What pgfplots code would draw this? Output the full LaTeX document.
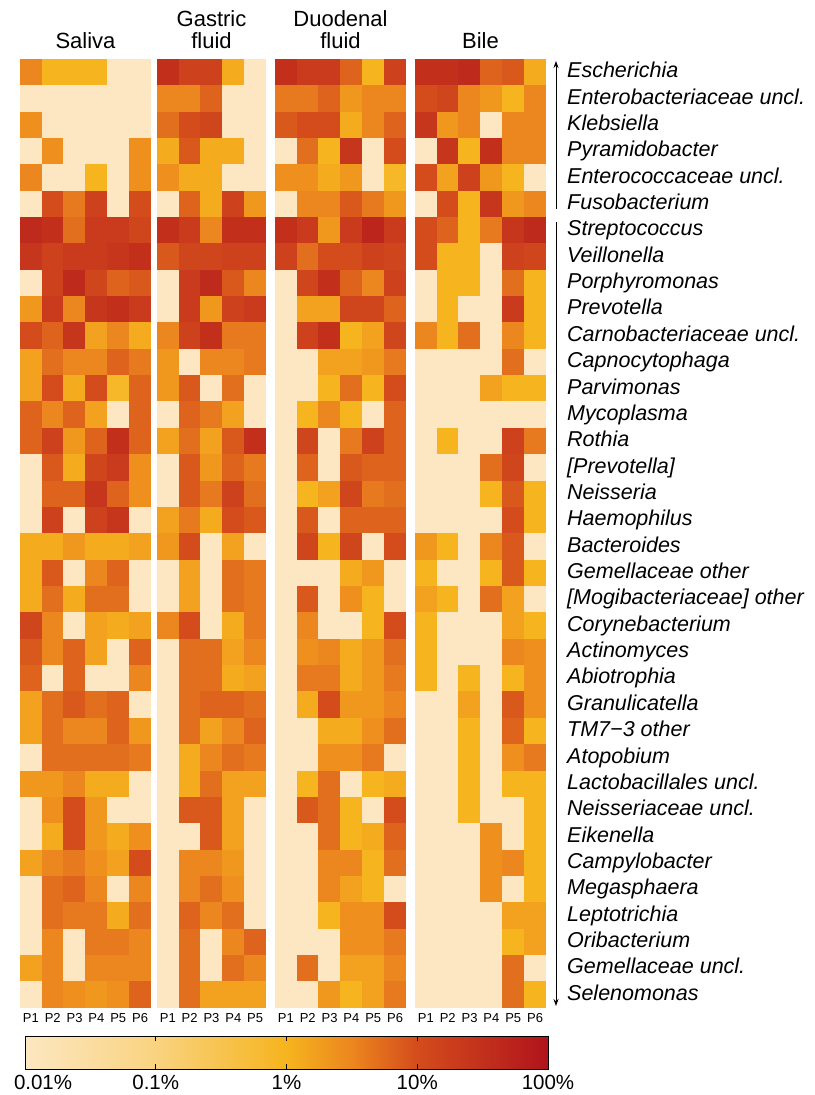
\documentclass[border=0pt]{standalone}
\usepackage{pgfplots}
\pgfplotsset{compat=1.18}
\usepackage{pgfplotstable}
\usepackage{fontspec}
\setmainfont{Liberation Sans}
\usetikzlibrary{arrows.meta}

% relative abundance, stored as log10(percent) + 2  (0 = 0.01%, 4 = 100%)
\pgfplotstableread{
P1 P2 P3 P4 P5 P6
2.5 2.0 2.0 2.0 0 0
0 0 0 0 0 0
2.4 0 0 0 0 0
0 2.4 0 0 0 2.4
2.5 0 0 2.0 0 2.4
0 3.0 2.6 3.2 0 3.0
3.6 3.5 2.7 3.3 3.3 3.1
3.4 3.2 3.3 3.3 3.4 3.5
0 3.2 3.6 3.1 2.8 2.9
2.3 3.3 2.5 3.4 3.5 3.3
3.0 2.8 3.4 2.2 2.5 2.1
2.2 2.7 2.5 2.5 2.8 2.6
2.2 3.0 2.1 3.0 1.9 2.8
2.8 2.5 2.8 2.2 0 2.8
2.8 3.2 2.3 2.8 3.5 2.8
0 2.9 2.1 3.1 3.3 2.4
0 2.8 2.8 3.4 2.8 2.4
0 3.2 0 3.2 3.4 0
2.1 2.1 2.3 2.1 2.1 2.2
2.1 2.9 0 2.5 2.8 0
2.1 2.7 2.1 2.7 2.7 0
3.1 2.5 0 2.2 2.1 2.2
2.9 2.5 2.8 2.2 0 2.8
2.8 0 2.8 0 0 2.5
2.2 2.7 2.9 2.7 2.8 0
2.2 2.7 2.5 2.5 2.8 2.3
0 2.7 2.7 2.7 2.7 2.6
2.3 2.3 2.5 2.1 2.1 0
0 2.4 3.0 2.3 0 0
0 2.1 3.0 2.3 2.1 2.4
2.2 2.5 2.6 2.4 2.2 3.0
0 2.7 2.8 2.5 0 2.5
0 2.7 2.6 2.6 2.1 2.7
0 2.5 0 2.6 2.6 2.5
2.2 2.5 0 2.5 2.5 2.5
0 2.5 2.4 2.3 2.4 2.8
}\saliva

\pgfplotstableread{
P1 P2 P3 P4 P5
3.5 3.2 3.2 2.1 0
2.5 2.5 2.8 0 0
2.7 3.0 3.1 0 0
2.1 2.9 2.1 2.1 0
2.4 2.1 2.1 0 0
0 2.8 2.1 3.2 2.3
3.5 3.3 2.5 3.5 3.5
2.9 3.1 3.1 3.2 3.2
0 3.3 3.6 2.9 2.5
0 3.3 2.3 3.2 3.3
2.5 3.2 3.5 2.6 2.6
2.3 0 2.5 2.5 2.6
2.3 2.9 0 2.7 0
0 2.8 2.6 2.2 0
2.2 2.7 2.2 2.9 3.5
0 2.9 2.3 2.8 2.6
0 2.9 2.6 3.2 2.7
2.2 2.6 2.1 3.0 2.9
2.3 3.0 0 2.2 0
0 2.2 0 2.7 2.6
0 2.2 0 2.7 2.6
2.5 3.0 0 2.1 2.6
0 2.7 2.7 2.2 2.5
0 2.7 2.7 2.1 2.2
0 2.7 2.8 2.8 2.7
0 2.7 2.2 2.5 2.8
0 2.1 2.5 2.7 2.6
0 2.1 2.7 2.2 2.2
0 2.9 2.9 2.2 0
0 0 2.9 2.2 0
0 2.5 2.5 2.3 0
0 2.5 2.7 2.4 0
0 2.8 2.5 2.7 0
0 2.7 0 2.5 2.8
0 2.7 0 2.7 2.5
0 2.7 2.2 2.2 2.2
}\gastric

\pgfplotstableread{
P1 P2 P3 P4 P5 P6
3.5 3.3 3.3 2.8 2.0 3.2
2.6 2.6 2.8 2.3 2.5 2.5
2.9 3.0 3.0 2.1 2.5 2.8
0 2.7 2.0 3.4 0 3.0
2.4 2.4 2.1 2.3 0 1.9
0 2.5 2.5 2.9 2.6 2.3
3.5 3.3 2.3 3.3 3.7 3.3
3.2 2.7 3.0 3.0 3.2 3.1
0 3.1 3.5 2.8 2.5 3.2
0 2.2 2.2 3.1 3.1 2.8
0 3.2 3.5 2.0 2.2 3.1
0 0 2.2 2.2 2.3 2.6
0 0 2.0 2.7 2.0 3.0
0 2.0 2.5 2.0 0 2.8
0 3.1 0 2.6 3.2 2.8
0 2.8 0 2.9 2.8 2.8
0 2.0 2.2 3.1 2.6 2.7
0 2.9 0 2.8 2.8 2.8
0 3.1 2.0 3.1 0 3.0
0 0 0 2.1 2.3 0
0 2.9 0 2.4 2.0 0
0 2.5 0 0 2.0 3.0
0 2.4 2.5 2.1 2.3 2.7
0 2.6 2.6 2.1 2.3 2.6
0 2.1 3.0 2.3 2.3 2.5
0 0 2.1 2.1 2.4 2.7
0 0 2.4 2.4 2.6 0
0 2.0 2.7 0 2.0 2.1
0 2.9 2.7 2.0 0 3.0
0 0 2.7 2.0 2.1 2.8
0 0 2.5 2.5 2.0 2.7
0 0 2.5 2.2 2.0 0
0 0 2.0 2.4 2.4 3.0
0 0 0 2.4 2.4 2.6
0 2.7 0 2.2 2.2 2.5
0 0 2.3 2.0 2.2 2.6
}\duodenal

\pgfplotstableread{
P1 P2 P3 P4 P5 P6
3.5 3.5 3.6 2.8 2.9 2.1
3.0 3.1 2.5 2.3 2.0 2.5
3.4 2.3 2.5 0 2.5 2.5
0 3.4 2.0 3.5 2.5 2.5
3.0 2.2 3.2 2.3 2.0 0
0 3.0 2.0 3.4 2.3 2.5
3.0 2.8 2.0 2.6 3.4 3.6
3.0 2.0 2.0 0 3.2 3.1
0 2.0 2.0 0 2.7 2.0
0 2.0 0 0 3.3 2.0
2.5 2.0 2.7 0 2.5 2.0
0 0 0 0 2.7 0
0 0 0 2.2 2.0 2.0
0 0 0 0 0 0
0 2.0 0 0 3.2 2.6
0 0 0 2.7 3.1 0
0 0 0 2.0 2.9 2.0
0 0 0 0 3.0 2.0
2.3 2.0 0 2.5 2.9 0
2.0 0 0 2.0 2.9 2.0
2.2 2.0 0 2.7 2.2 0
2.0 0 0 0 2.2 2.0
2.0 0 0 0 2.5 2.4
2.0 0 2.0 0 2.0 2.4
0 0 2.2 0 2.9 2.4
0 0 2.0 0 2.8 2.0
0 0 2.0 0 2.4 2.6
0 0 2.0 0 2.0 2.0
0 0 2.0 0 0 2.0
0 0 0 2.4 0 2.0
0 0 0 2.4 2.5 2.0
0 0 0 2.4 0 2.0
0 0 0 0 2.2 2.2
0 0 0 0 2.0 2.2
0 0 0 0 2.7 0
0 0 0 0 2.7 2.0
}\bile

\pgfplotsset{
  colormap={heat}{rgb255(0cm)=(253,231,194); rgb255(2cm)=(249,211,128); rgb255(4cm)=(246,180,30); rgb255(5cm)=(236,134,30); rgb255(6cm)=(212,76,28); rgb255(8cm)=(176,20,28)},
}

% one heat-map cell: 131pt/6 wide, 949pt/36 tall, with a hair of overlap
\pgfdeclareplotmark{cell}{%
  \pgfpathrectangle{\pgfpoint{-11.1pt}{-13.4pt}}{\pgfpoint{22.2pt}{26.8pt}}%
  \pgfusepathqfill}

\pgfplotsset{
  panel/.style={
    anchor=south west, scale only axis, height=949pt,
    ymin=-0.5, ymax=35.5, y dir=reverse, xmin=-0.5,
    axis line style={draw=none}, tick style={draw=none},
    major tick length=0pt, ytick=\empty,
    xticklabel style={font=\fontsize{13}{15}\selectfont, inner sep=0pt, yshift=-5pt},
    colormap name=heat, point meta min=0, point meta max=4,
    title style={font=\fontsize{22}{22}\selectfont, align=center, inner sep=0pt,
      anchor=south, at={(0.5,1)}, yshift=4pt},
    clip=false,
  },
  cells/.style={scatter, only marks, mark=cell,
    scatter/use mapped color={draw=none, fill=mapped color}},
}

\begin{document}
\begin{tikzpicture}
\path[use as bounding box] (0pt,0pt) rectangle (814pt,1095pt);

% Saliva
\begin{axis}[panel, at={(20pt,87pt)}, width=131pt, xmax=5.5,
  xtick={0,...,5}, xticklabels={P1,P2,P3,P4,P5,P6}, title={Saliva}]
\addplot[cells, point meta=\thisrow{P1}] table[x expr=0, y expr=\coordindex] {\saliva};
\addplot[cells, point meta=\thisrow{P2}] table[x expr=1, y expr=\coordindex] {\saliva};
\addplot[cells, point meta=\thisrow{P3}] table[x expr=2, y expr=\coordindex] {\saliva};
\addplot[cells, point meta=\thisrow{P4}] table[x expr=3, y expr=\coordindex] {\saliva};
\addplot[cells, point meta=\thisrow{P5}] table[x expr=4, y expr=\coordindex] {\saliva};
\addplot[cells, point meta=\thisrow{P6}] table[x expr=5, y expr=\coordindex] {\saliva};
\end{axis}

% Gastric fluid
\begin{axis}[panel, at={(157pt,87pt)}, width=109pt, xmax=4.5,
  xtick={0,...,4}, xticklabels={P1,P2,P3,P4,P5}, title={Gastric\\fluid}]
\addplot[cells, point meta=\thisrow{P1}] table[x expr=0, y expr=\coordindex] {\gastric};
\addplot[cells, point meta=\thisrow{P2}] table[x expr=1, y expr=\coordindex] {\gastric};
\addplot[cells, point meta=\thisrow{P3}] table[x expr=2, y expr=\coordindex] {\gastric};
\addplot[cells, point meta=\thisrow{P4}] table[x expr=3, y expr=\coordindex] {\gastric};
\addplot[cells, point meta=\thisrow{P5}] table[x expr=4, y expr=\coordindex] {\gastric};
\end{axis}

% Duodenal fluid
\begin{axis}[panel, at={(275pt,87pt)}, width=131pt, xmax=5.5,
  xtick={0,...,5}, xticklabels={P1,P2,P3,P4,P5,P6}, title={Duodenal\\fluid}]
\addplot[cells, point meta=\thisrow{P1}] table[x expr=0, y expr=\coordindex] {\duodenal};
\addplot[cells, point meta=\thisrow{P2}] table[x expr=1, y expr=\coordindex] {\duodenal};
\addplot[cells, point meta=\thisrow{P3}] table[x expr=2, y expr=\coordindex] {\duodenal};
\addplot[cells, point meta=\thisrow{P4}] table[x expr=3, y expr=\coordindex] {\duodenal};
\addplot[cells, point meta=\thisrow{P5}] table[x expr=4, y expr=\coordindex] {\duodenal};
\addplot[cells, point meta=\thisrow{P6}] table[x expr=5, y expr=\coordindex] {\duodenal};
\end{axis}

% Bile, with the taxon names on the right
\begin{axis}[panel, at={(415pt,87pt)}, width=131pt, xmax=5.5,
  xtick={0,...,5}, xticklabels={P1,P2,P3,P4,P5,P6}, title={Bile},
  ytick={0,...,35}, yticklabel pos=right,
  yticklabel style={font=\itshape\fontsize{21.5}{24}\selectfont, anchor=west,
    inner sep=0pt, text height=15pt, text depth=4pt, xshift=21pt},
  yticklabels={{Escherichia},{Enterobacteriaceae uncl.},{Klebsiella},{Pyramidobacter},
    {Enterococcaceae uncl.},{Fusobacterium},{Streptococcus},{Veillonella},{Porphyromonas},
    {Prevotella},{Carnobacteriaceae uncl.},{Capnocytophaga},{Parvimonas},{Mycoplasma},
    {Rothia},{[Prevotella]},{Neisseria},{Haemophilus},{Bacteroides},{Gemellaceae other},
    {[Mogibacteriaceae] other},{Corynebacterium},{Actinomyces},{Abiotrophia},
    {Granulicatella},{TM7−3 other},{Atopobium},{Lactobacillales uncl.},
    {Neisseriaceae uncl.},{Eikenella},{Campylobacter},{Megasphaera},{Leptotrichia},
    {Oribacterium},{Gemellaceae uncl.},{Selenomonas}}]
\addplot[cells, point meta=\thisrow{P1}] table[x expr=0, y expr=\coordindex] {\bile};
\addplot[cells, point meta=\thisrow{P2}] table[x expr=1, y expr=\coordindex] {\bile};
\addplot[cells, point meta=\thisrow{P3}] table[x expr=2, y expr=\coordindex] {\bile};
\addplot[cells, point meta=\thisrow{P4}] table[x expr=3, y expr=\coordindex] {\bile};
\addplot[cells, point meta=\thisrow{P5}] table[x expr=4, y expr=\coordindex] {\bile};
\addplot[cells, point meta=\thisrow{P6}] table[x expr=5, y expr=\coordindex] {\bile};
\end{axis}

% group brackets beside the names
\draw[line width=0.9pt, -{Stealth[length=7pt,width=5pt]}] (556pt,886pt) -- (556pt,1034pt);
\draw[line width=0.9pt, -{Stealth[length=7pt,width=5pt]}] (556pt,873pt) -- (556pt,89pt);

% colour scale
\begin{axis}[at={(25pt,26pt)}, anchor=south west, scale only axis,
  width=523pt, height=33pt, xmin=0, xmax=4, ymin=0, ymax=1,
  enlargelimits=false, axis on top, ytick=\empty,
  xtick={0,...,4}, xtick pos=both, xticklabel pos=lower, tick align=inside,
  major tick length=5pt, tick style={black, line width=0.8pt},
  axis line style={line width=0.8pt},
  colormap name=heat, point meta min=0, point meta max=4,
  xticklabel style={font=\fontsize{20.5}{24}\selectfont, inner sep=0pt, yshift=-6pt},
  xticklabels={{\makebox[0pt][l]{\hspace{-11pt}0.01\%}},0.1\%,1\%,10\%,100\%}]
\addplot[surf, shader=interp, mesh/rows=2, point meta=x] coordinates {(0,0) (4,0) (0,1) (4,1)};
\end{axis}
\end{tikzpicture}
\end{document}
